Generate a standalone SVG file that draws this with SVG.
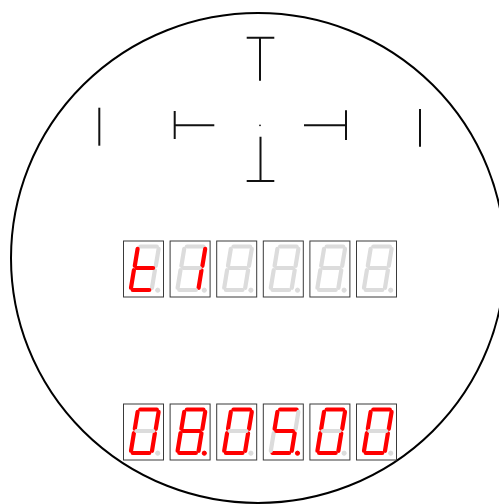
<svg xmlns="http://www.w3.org/2000/svg" xmlns:xlink="http://www.w3.org/1999/xlink" width="499" height="504" viewBox="0 0 499 504">
<style>
.bg{fill:#ffffff}
.rim{fill:none;stroke:#000;stroke-width:2}
.ret{stroke:#111;stroke-width:2;fill:none}
.box{fill:#fff;stroke:#3a3a3a;stroke-width:1}
.on{stroke:#ff0000;fill:#ff0000}
.off{stroke:#dcdcdc;fill:#dcdcdc}
.seg{stroke-width:4.2;stroke-linecap:round}
</style>
<defs>
<line id="sa" x1="16.8" y1="5.5" x2="33.3" y2="5.5"/>
<line id="sb" x1="35.1" y1="7.8" x2="32.3" y2="24.8"/>
<line id="sc" x1="31.4" y1="29.2" x2="28.5" y2="46.8"/>
<line id="sd" x1="9.2" y1="49" x2="25.8" y2="49"/>
<line id="se" x1="10.4" y1="29.2" x2="7.5" y2="46.8"/>
<line id="sf" x1="14.1" y1="7.8" x2="11.3" y2="24.8"/>
<line id="sg" x1="13" y1="27" x2="29.6" y2="27"/>
<circle id="dp" cx="34.2" cy="49.2" r="2.1"/>
<rect id="frame" x="0" y="0" width="40" height="56"/>
</defs>
<rect class="bg" x="0" y="0" width="499" height="504"/>
<ellipse id="scope" class="rim" cx="258" cy="258" rx="247" ry="245"/>
<g id="reticle" class="ret">
<path d="M246.7 37.7H274.3M260 37.7V80.7"/>
<path d="M246.7 181H274.3M260.5 136.7V181"/>
<path d="M174.7 111V139M174.7 125.3H214.3"/>
<path d="M304 125.3H346M346 110.3V140"/>
<path d="M99.3 107.7V145.7"/>
<path d="M420 109V146.7"/>
<circle cx="260" cy="125.3" r="0.9" fill="#111" stroke="none"/>
</g>
<g id="top-row">
<g id="t1" transform="translate(123.5 241)"><use xlink:href="#frame" class="box"/>
<g class="seg"><use xlink:href="#sa" class="off"/><use xlink:href="#sb" class="off"/><use xlink:href="#sc" class="off"/><use xlink:href="#sd" class="on"/><use xlink:href="#se" class="on"/><use xlink:href="#sf" class="on"/><use xlink:href="#sg" class="on"/></g><use xlink:href="#dp" class="off"/></g>
<g id="t2" transform="translate(170.1 241)"><use xlink:href="#frame" class="box"/>
<g class="seg"><use xlink:href="#sa" class="off"/><use xlink:href="#sb" class="on"/><use xlink:href="#sc" class="on"/><use xlink:href="#sd" class="off"/><use xlink:href="#se" class="off"/><use xlink:href="#sf" class="off"/><use xlink:href="#sg" class="off"/></g><use xlink:href="#dp" class="off"/></g>
<g id="t3" transform="translate(216.7 241)"><use xlink:href="#frame" class="box"/>
<g class="seg off"><use xlink:href="#sa"/><use xlink:href="#sb"/><use xlink:href="#sc"/><use xlink:href="#sd"/><use xlink:href="#se"/><use xlink:href="#sf"/><use xlink:href="#sg"/></g><use xlink:href="#dp" class="off"/></g>
<g id="t4" transform="translate(263.3 241)"><use xlink:href="#frame" class="box"/>
<g class="seg off"><use xlink:href="#sa"/><use xlink:href="#sb"/><use xlink:href="#sc"/><use xlink:href="#sd"/><use xlink:href="#se"/><use xlink:href="#sf"/><use xlink:href="#sg"/></g><use xlink:href="#dp" class="off"/></g>
<g id="t5" transform="translate(309.9 241)"><use xlink:href="#frame" class="box"/>
<g class="seg off"><use xlink:href="#sa"/><use xlink:href="#sb"/><use xlink:href="#sc"/><use xlink:href="#sd"/><use xlink:href="#se"/><use xlink:href="#sf"/><use xlink:href="#sg"/></g><use xlink:href="#dp" class="off"/></g>
<g id="t6" transform="translate(356.5 241)"><use xlink:href="#frame" class="box"/>
<g class="seg off"><use xlink:href="#sa"/><use xlink:href="#sb"/><use xlink:href="#sc"/><use xlink:href="#sd"/><use xlink:href="#se"/><use xlink:href="#sf"/><use xlink:href="#sg"/></g><use xlink:href="#dp" class="off"/></g>
</g>
<g id="bottom-row">
<g id="b1" transform="translate(123.5 404)"><use xlink:href="#frame" class="box"/>
<g class="seg"><use xlink:href="#sa" class="on"/><use xlink:href="#sb" class="on"/><use xlink:href="#sc" class="on"/><use xlink:href="#sd" class="on"/><use xlink:href="#se" class="on"/><use xlink:href="#sf" class="on"/><use xlink:href="#sg" class="off"/></g><use xlink:href="#dp" class="off"/></g>
<g id="b2" transform="translate(170.1 404)"><use xlink:href="#frame" class="box"/>
<g class="seg on"><use xlink:href="#sa"/><use xlink:href="#sb"/><use xlink:href="#sc"/><use xlink:href="#sd"/><use xlink:href="#se"/><use xlink:href="#sf"/><use xlink:href="#sg"/></g><use xlink:href="#dp" class="on"/></g>
<g id="b3" transform="translate(216.7 404)"><use xlink:href="#frame" class="box"/>
<g class="seg"><use xlink:href="#sa" class="on"/><use xlink:href="#sb" class="on"/><use xlink:href="#sc" class="on"/><use xlink:href="#sd" class="on"/><use xlink:href="#se" class="on"/><use xlink:href="#sf" class="on"/><use xlink:href="#sg" class="off"/></g><use xlink:href="#dp" class="off"/></g>
<g id="b4" transform="translate(263.3 404)"><use xlink:href="#frame" class="box"/>
<g class="seg"><use xlink:href="#sa" class="on"/><use xlink:href="#sb" class="off"/><use xlink:href="#sc" class="on"/><use xlink:href="#sd" class="on"/><use xlink:href="#se" class="off"/><use xlink:href="#sf" class="on"/><use xlink:href="#sg" class="on"/></g><use xlink:href="#dp" class="on"/></g>
<g id="b5" transform="translate(309.9 404)"><use xlink:href="#frame" class="box"/>
<g class="seg"><use xlink:href="#sa" class="on"/><use xlink:href="#sb" class="on"/><use xlink:href="#sc" class="on"/><use xlink:href="#sd" class="on"/><use xlink:href="#se" class="on"/><use xlink:href="#sf" class="on"/><use xlink:href="#sg" class="off"/></g><use xlink:href="#dp" class="off"/></g>
<g id="b6" transform="translate(356.5 404)"><use xlink:href="#frame" class="box"/>
<g class="seg"><use xlink:href="#sa" class="on"/><use xlink:href="#sb" class="on"/><use xlink:href="#sc" class="on"/><use xlink:href="#sd" class="on"/><use xlink:href="#se" class="on"/><use xlink:href="#sf" class="on"/><use xlink:href="#sg" class="off"/></g><use xlink:href="#dp" class="off"/></g>
</g>
</svg>
